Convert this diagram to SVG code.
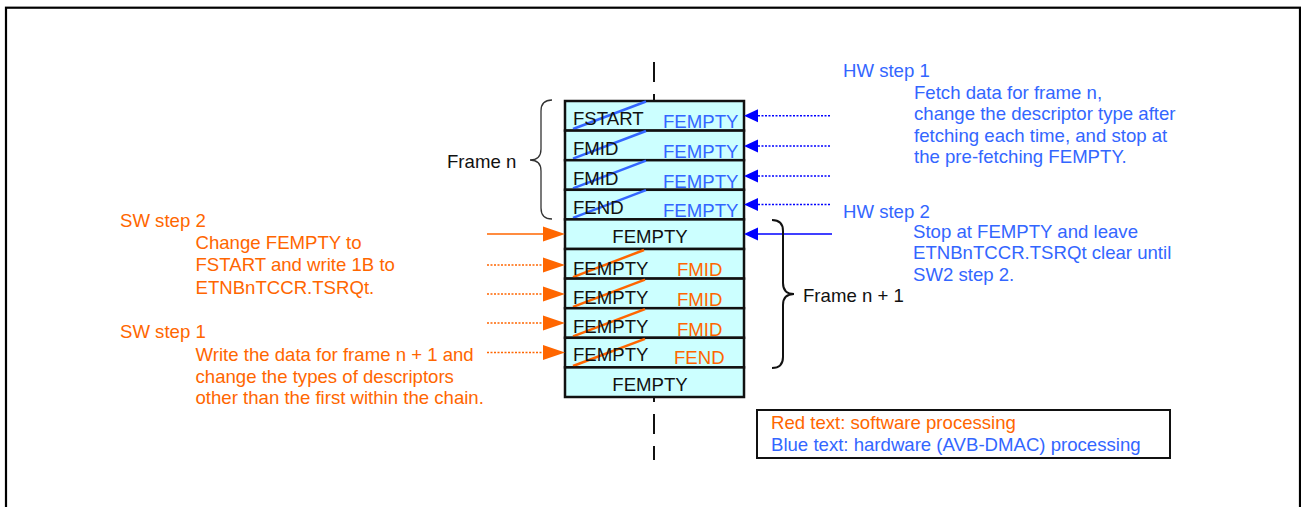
<svg xmlns="http://www.w3.org/2000/svg" width="1301" height="507" viewBox="0 0 1301 507">
<style>
text{font-family:"Liberation Sans",Arial,sans-serif;font-size:18.6px}
.k{fill:#111}
.b{fill:#3366FF}
.o{fill:#FF6600}
.row{fill:#CCFFFF;stroke:#111;stroke-width:2.5}
.db{stroke:#3366FF;stroke-width:2.5}
.do{stroke:#FF6600;stroke-width:2.5}
.ab{stroke:#0000FF;stroke-width:1.5;fill:none}
.ao{stroke:#FF6600;stroke-width:1.5;fill:none}
.dot{stroke-dasharray:2 1.5}
.hb{fill:#0000FF}
.ho{fill:#FF6600}
</style>
<rect x="6" y="7.7" width="1294" height="600" fill="#fff" stroke="#000" stroke-width="2.2"/>
<line x1="654" y1="62" x2="654" y2="460" stroke="#111" stroke-width="2" stroke-dasharray="20 12"/>
<g id="row1"><rect class="row" x="565" y="101" width="179" height="29.6"/><line class="db" x1="573" y1="129" x2="646" y2="101.5"/><text class="k" x="573" y="125">FSTART</text><text class="b" x="663" y="128">FEMPTY</text></g>
<g id="row2"><rect class="row" x="565" y="130.6" width="179" height="29.6"/><line class="db" x1="573" y1="158.7" x2="646" y2="131"/><text class="k" x="573" y="155">FMID</text><text class="b" x="663" y="158">FEMPTY</text></g>
<g id="row3"><rect class="row" x="565" y="160.2" width="179" height="29.6"/><line class="db" x1="573" y1="188.3" x2="646" y2="160.6"/><text class="k" x="573" y="185">FMID</text><text class="b" x="663" y="188">FEMPTY</text></g>
<g id="row4"><rect class="row" x="565" y="189.8" width="179" height="29.6"/><line class="db" x1="573" y1="217.9" x2="646" y2="190.2"/><text class="k" x="573" y="214">FEND</text><text class="b" x="663" y="217">FEMPTY</text></g>
<g id="row5"><rect class="row" x="565" y="219.4" width="179" height="29.6"/><text class="k" x="650" y="243" text-anchor="middle">FEMPTY</text></g>
<g id="row6"><rect class="row" x="565" y="249" width="179" height="29.6"/><line class="do" x1="573" y1="277.2" x2="644" y2="250"/><text class="k" x="573" y="275">FEMPTY</text><text class="o" x="677" y="276">FMID</text></g>
<g id="row7"><rect class="row" x="565" y="278.6" width="179" height="29.6"/><line class="do" x1="573" y1="306.8" x2="645" y2="279.6"/><text class="k" x="573" y="303.5">FEMPTY</text><text class="o" x="677" y="306">FMID</text></g>
<g id="row8"><rect class="row" x="565" y="308.2" width="179" height="29.6"/><line class="do" x1="573" y1="336.4" x2="645" y2="309.2"/><text class="k" x="573" y="332.5">FEMPTY</text><text class="o" x="677" y="335.5">FMID</text></g>
<g id="row9"><rect class="row" x="565" y="337.8" width="179" height="29.6"/><line class="do" x1="573" y1="366" x2="645" y2="338.8"/><text class="k" x="573" y="361">FEMPTY</text><text class="o" x="674" y="363.5">FEND</text></g>
<g id="row10"><rect class="row" x="565" y="367.4" width="179" height="29.6"/><text class="k" x="650" y="391" text-anchor="middle">FEMPTY</text></g>
<g id="connectors">
<line class="ab dot" x1="830" y1="115.7" x2="757" y2="115.7"/><polygon class="hb" points="744,115.7 758,109.2 758,122.2"/>
<line class="ab dot" x1="830" y1="146" x2="757" y2="146"/><polygon class="hb" points="744,146 758,139.5 758,152.5"/>
<line class="ab dot" x1="830" y1="176" x2="757" y2="176"/><polygon class="hb" points="744,176 758,169.5 758,182.5"/>
<line class="ab dot" x1="830" y1="204.5" x2="757" y2="204.5"/><polygon class="hb" points="744,204.5 758,198 758,211"/>
<line class="ab" x1="832" y1="234" x2="757" y2="234"/><polygon class="hb" points="744,234 758,227.5 758,240.5"/>
<line class="ao" x1="487" y1="234" x2="545" y2="234"/><polygon class="ho" points="565,234 543,226.5 543,241.5"/>
<line class="ao dot" x1="487" y1="265" x2="545" y2="265"/><polygon class="ho" points="565,265 543,257.5 543,272.5"/>
<line class="ao dot" x1="487" y1="294" x2="545" y2="294"/><polygon class="ho" points="565,294 543,286.5 543,301.5"/>
<line class="ao dot" x1="487" y1="323" x2="545" y2="323"/><polygon class="ho" points="565,323 543,315.5 543,330.5"/>
<line class="ao dot" x1="487" y1="352.5" x2="545" y2="352.5"/><polygon class="ho" points="565,352.5 543,345 543,360"/>
</g>
<g id="brace-frame-n">
<path d="M552,100 Q541,100 541,111 L541,149 Q541,160 530,160 Q541,160 541,171 L541,208 Q541,219 552,219" fill="none" stroke="#333" stroke-width="1.3"/>
<text class="k" x="447" y="168">Frame n</text>
</g>
<g id="brace-frame-n1">
<path d="M772,220 Q783,220 783,231 L783,283 Q783,294 794,294 Q783,294 783,305 L783,357 Q783,368 772,368" fill="none" stroke="#111" stroke-width="2"/>
<text class="k" x="803" y="302">Frame n + 1</text>
</g>
<g id="hw1">
<text class="b" x="843" y="77">HW step 1</text>
<text class="b" x="914" y="98.5">Fetch data for frame n,</text>
<text class="b" x="914" y="120">change the descriptor type after</text>
<text class="b" x="914" y="141.5">fetching each time, and stop at</text>
<text class="b" x="914" y="163">the pre-fetching FEMPTY.</text>
</g>
<g id="hw2">
<text class="b" x="843" y="217.5">HW step 2</text>
<text class="b" x="913" y="237.5">Stop at FEMPTY and leave</text>
<text class="b" x="913" y="259">ETNBnTCCR.TSRQt clear until</text>
<text class="b" x="913" y="281">SW2 step 2.</text>
</g>
<g id="sw2">
<text class="o" x="120" y="226.5">SW step 2</text>
<text class="o" x="195.5" y="248.5">Change FEMPTY to</text>
<text class="o" x="195.5" y="271">FSTART and write 1B to</text>
<text class="o" x="195.5" y="293.5">ETNBnTCCR.TSRQt.</text>
</g>
<g id="sw1">
<text class="o" x="120" y="337.5">SW step 1</text>
<text class="o" x="195.5" y="360.5">Write the data for frame n + 1 and</text>
<text class="o" x="195.5" y="382.5">change the types of descriptors</text>
<text class="o" x="195.5" y="404">other than the first within the chain.</text>
</g>
<g id="legend">
<rect x="757" y="410" width="413" height="48" fill="#fff" stroke="#111" stroke-width="2"/>
<text class="o" x="771" y="429">Red text: software processing</text>
<text class="b" x="771" y="450.5">Blue text: hardware (AVB-DMAC) processing</text>
</g>
</svg>
